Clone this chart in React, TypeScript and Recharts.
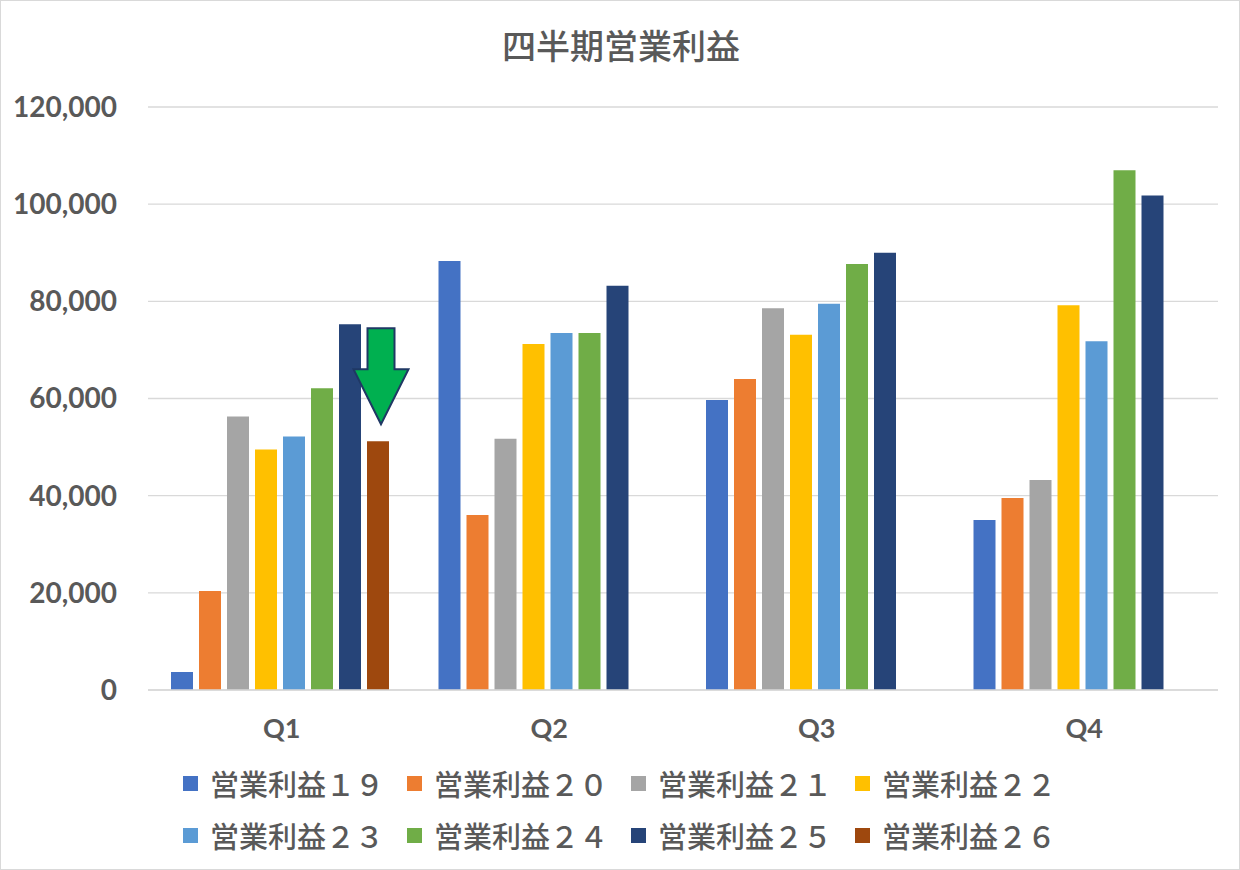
import React from 'react';
import { BarChart, Bar, XAxis, YAxis, CartesianGrid, Legend } from 'recharts';

const categories = ['Q1', 'Q2', 'Q3', 'Q4'];
const seriesNames = ['営業利益１９', '営業利益２０', '営業利益２１', '営業利益２２', '営業利益２３', '営業利益２４', '営業利益２５', '営業利益２６'];
const seriesKeys = ['s19', 's20', 's21', 's22', 's23', 's24', 's25', 's26'];
const seriesColors = ['#4472C4', '#ED7D31', '#A5A5A5', '#FFC000', '#5B9BD5', '#70AD47', '#264478', '#9E480E'];

const op19 = [3700, 88300, 59700, 35000];
const op20 = [20400, 36000, 64000, 39500];
const op21 = [56300, 51700, 78600, 43200];
const op22 = [49500, 71200, 73100, 79200];
const op23 = [52200, 73500, 79500, 71800];
const op24 = [62100, 73500, 87700, 107000];
const op25 = [75300, 83200, 90000, 101800];
const op26 = [51200, null, null, null];

const yTicks = [0, 20000, 40000, 60000, 80000, 100000, 120000];
const title = '四半期営業利益';

const seriesValues = [op19, op20, op21, op22, op23, op24, op25, op26];
const data = categories.map((c, i) => {
  const row: any = { name: c };
  seriesKeys.forEach((k, j) => {
    row[k] = seriesValues[j][i];
  });
  return row;
});

const TEXT = '#595959';
const LATIN = 'Lato, "Open Sans", sans-serif';
const CJK = '"Noto Sans CJK JP", "Noto Sans", sans-serif';

const ArrowLabel = (props: any) => {
  const { x, y, width, value } = props;
  if (value == null) return null;
  const cx = x + width / 2 + 3;
  const tip = y - 17;
  const headTop = y - 72;
  const shaftTop = y - 113;
  const sw = 13.5;
  const hw = 27.5;
  const d = `M${cx - sw},${shaftTop} L${cx + sw},${shaftTop} L${cx + sw},${headTop} L${cx + hw},${headTop} L${cx},${tip} L${cx - hw},${headTop} L${cx - sw},${headTop} Z`;
  return <path d={d} fill="#00B050" stroke="#1F3864" strokeWidth={2} strokeLinejoin="miter" />;
};

const renderLegend = (props: any) => {
  const { payload } = props;
  return (
    <div
      style={{
        width: 874,
        margin: '0 auto',
        height: 104,
        display: 'flex',
        flexWrap: 'wrap',
        columnGap: 22,
        fontFamily: CJK,
        fontSize: 29,
        fontWeight: 500,
        color: TEXT,
      }}
    >
      {payload.map((p: any) => (
        <div key={p.value} style={{ width: 202, height: 52, display: 'flex', alignItems: 'center' }}>
          <span style={{ display: 'inline-block', width: 15, height: 15, background: p.color, marginRight: 12 }} />
          <span style={{ whiteSpace: 'nowrap', lineHeight: '52px' }}>{p.value}</span>
        </div>
      ))}
    </div>
  );
};

export default function App() {
  return (
    <div
      style={{
        position: 'fixed',
        left: 0,
        top: 0,
        width: 1240,
        height: 870,
        background: '#fff',
        boxSizing: 'border-box',
        border: '1px solid #d9d9d9',
      }}
    >
      <div
        style={{
          position: 'absolute',
          left: 0,
          top: 22,
          width: 1240,
          textAlign: 'center',
          fontFamily: CJK,
          fontSize: 34,
          fontWeight: 500,
          lineHeight: '44px',
          color: TEXT,
        }}
      >
        {title}
      </div>
      <div style={{ position: 'absolute', left: -1, top: -1 }}>
        <BarChart
          width={1240}
          height={870}
          data={data}
          margin={{ top: 107, right: 22, left: 0, bottom: 16 }}
          barCategoryGap={23}
          barGap={6}
        >
          <CartesianGrid vertical={false} stroke="#d9d9d9" strokeWidth={1.3} />
          <XAxis
            dataKey="name"
            axisLine={{ stroke: '#d9d9d9', strokeWidth: 1.3 }}
            tickLine={false}
            tickSize={0}
            tickMargin={29}
            height={60}
            tick={{ fill: TEXT, fontFamily: LATIN, fontWeight: 700, fontSize: 27 }}
          />
          <YAxis
            width={148}
            domain={[0, 120000]}
            ticks={yTicks}
            axisLine={false}
            tickLine={false}
            tickSize={0}
            tickMargin={31}
            tickFormatter={(v: number) => v.toLocaleString('en-US')}
            tick={{ fill: TEXT, fontFamily: LATIN, fontWeight: 700, fontSize: 28 }}
          />
          <Legend
            verticalAlign="bottom"
            content={renderLegend}
            wrapperStyle={{ left: 0, width: 1240, top: 757, height: 104 }}
          />
          {seriesKeys.map((k, i) => (
            <Bar
              key={k}
              dataKey={k}
              name={seriesNames[i]}
              fill={seriesColors[i]}
              isAnimationActive={false}
              label={k === 's26' ? <ArrowLabel /> : undefined}
            />
          ))}
        </BarChart>
      </div>
    </div>
  );
}
